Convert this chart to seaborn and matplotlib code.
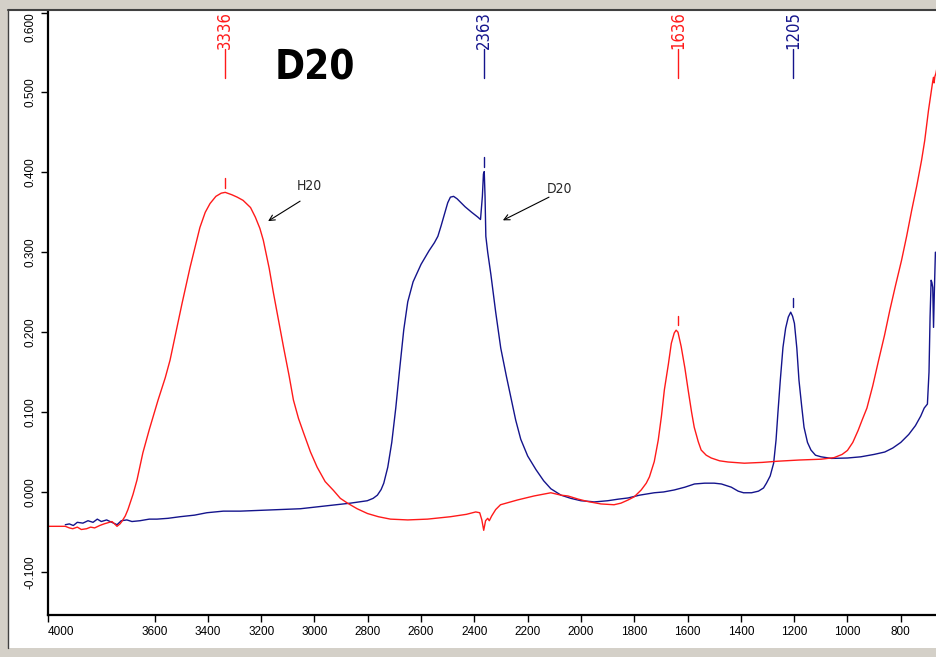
import numpy as np
import pandas as pd
import matplotlib
matplotlib.use("Agg")
import matplotlib.pyplot as plt
import matplotlib.font_manager as fm
import seaborn as sns
from matplotlib.patches import Rectangle
from matplotlib.lines import Line2D

# ---------------- data ----------------
red_wn = [4000, 3960, 3935, 3920, 3907, 3890, 3875, 3855, 3840, 3825, 3806, 3790, 3780, 3760,
          3750, 3741, 3730, 3723, 3710, 3700, 3690, 3681, 3666, 3644, 3620, 3587, 3560, 3542,
          3520, 3497, 3467, 3430, 3410, 3392, 3370, 3350, 3335, 3310, 3290, 3268, 3240, 3222,
          3205, 3192, 3170, 3154, 3135, 3116, 3095, 3079, 3060, 3041, 3015, 2990, 2960, 2929,
          2903, 2876, 2840, 2801, 2760, 2715, 2650, 2576, 2490, 2430, 2395, 2380, 2372, 2365,
          2358, 2350, 2344, 2335, 2320, 2302, 2270, 2238, 2176, 2113, 2075, 2049, 2010, 1974,
          1925, 1876, 1850, 1823, 1800, 1774, 1755, 1743, 1725, 1710, 1698, 1687, 1672, 1661,
          1650, 1643, 1636, 1624, 1610, 1598, 1585, 1575, 1560, 1549, 1530, 1511, 1480, 1448,
          1387, 1320, 1261, 1180, 1099, 1050, 1020, 1000, 980, 960, 945, 927, 905, 883, 861,
          841, 820, 797, 778, 759, 740, 722, 710, 696, 686, 680, 677, 675, 672, 668, 664]
red_abs = [-0.043, -0.043, -0.043, -0.045, -0.046, -0.044, -0.047, -0.046, -0.044, -0.045,
           -0.042, -0.040, -0.039, -0.037, -0.040, -0.043, -0.040, -0.037, -0.030, -0.022,
           -0.012, -0.003, 0.015, 0.049, 0.078, 0.115, 0.143, 0.165, 0.200, 0.236, 0.281,
           0.331, 0.350, 0.361, 0.370, 0.374, 0.375, 0.372, 0.369, 0.365, 0.356, 0.344, 0.330,
           0.315, 0.280, 0.249, 0.215, 0.181, 0.145, 0.115, 0.092, 0.074, 0.050, 0.031, 0.013,
           0.002, -0.008, -0.014, -0.021, -0.027, -0.031, -0.034, -0.035, -0.034, -0.031,
           -0.028, -0.025, -0.026, -0.035, -0.048, -0.036, -0.033, -0.036, -0.030, -0.022,
           -0.016, -0.013, -0.010, -0.005, -0.001, -0.004, -0.005, -0.009, -0.012, -0.015,
           -0.016, -0.014, -0.010, -0.006, 0.0025, 0.011, 0.019, 0.038, 0.065, 0.095, 0.128,
           0.160, 0.186, 0.199, 0.2025, 0.200, 0.182, 0.155, 0.128, 0.100, 0.081, 0.063,
           0.0525, 0.046, 0.0425, 0.039, 0.0375, 0.036, 0.037, 0.0385, 0.040, 0.041, 0.043,
           0.047, 0.052, 0.062, 0.077, 0.090, 0.105, 0.133, 0.165, 0.196, 0.2275, 0.258,
           0.290, 0.320, 0.3525, 0.383, 0.415, 0.440, 0.4775, 0.500, 0.514, 0.519, 0.512,
           0.520, 0.524, 0.531]

blue_wn = [3935, 3920, 3905, 3890, 3869, 3850, 3831, 3815, 3800, 3780, 3760, 3741, 3725, 3704,
           3685, 3655, 3620, 3591, 3550, 3505, 3450, 3404, 3342, 3278, 3200, 3120, 3053, 2959,
           2865, 2802, 2780, 2764, 2750, 2740, 2725, 2710, 2695, 2680, 2665, 2650, 2630, 2600,
           2570, 2550, 2537, 2525, 2512, 2500, 2490, 2478, 2465, 2450, 2435, 2410, 2387, 2377,
           2370, 2366, 2363, 2360, 2357, 2350, 2338, 2320, 2301, 2280, 2263, 2245, 2226, 2200,
           2169, 2140, 2113, 2075, 2038, 2000, 1963, 1951, 1900, 1860, 1823, 1780, 1725, 1690,
           1650, 1610, 1574, 1536, 1500, 1473, 1436, 1410, 1390, 1360, 1334, 1315, 1304, 1290,
           1277, 1268, 1261, 1252, 1242, 1232, 1222, 1213, 1206, 1199, 1190, 1182, 1172, 1163,
           1150, 1137, 1120, 1099, 1060, 1000, 950, 900, 860, 830, 800, 770, 745, 725, 712, 705,
           700, 697, 694, 690, 686, 683, 680, 677, 674, 670, 664]
blue_abs = [-0.041, -0.040, -0.042, -0.038, -0.039, -0.036, -0.038, -0.034, -0.037, -0.035,
            -0.038, -0.041, -0.036, -0.035, -0.037, -0.036, -0.034, -0.034, -0.033, -0.031,
            -0.029, -0.026, -0.024, -0.024, -0.023, -0.022, -0.021, -0.0175, -0.014, -0.011,
            -0.008, -0.004, 0.003, 0.011, 0.031, 0.062, 0.105, 0.155, 0.203, 0.238, 0.263,
            0.285, 0.302, 0.312, 0.320, 0.333, 0.348, 0.362, 0.369, 0.370, 0.367, 0.362,
            0.357, 0.350, 0.344, 0.341, 0.370, 0.398, 0.401, 0.370, 0.320, 0.300, 0.272, 0.225,
            0.180, 0.145, 0.118, 0.090, 0.066, 0.045, 0.028, 0.014, 0.004, -0.004, -0.008,
            -0.011, -0.012, -0.0125, -0.011, -0.009, -0.0075, -0.004, -0.001, 0.000, 0.0025,
            0.006, 0.010, 0.011, 0.011, 0.010, 0.006, 0.001, -0.001, -0.001, 0.001, 0.005,
            0.011, 0.020, 0.036, 0.065, 0.099, 0.140, 0.181, 0.205, 0.219, 0.225, 0.220, 0.211,
            0.180, 0.140, 0.108, 0.081, 0.062, 0.0525, 0.046, 0.044, 0.042, 0.0425, 0.044,
            0.047, 0.050, 0.055, 0.062, 0.072, 0.083, 0.095, 0.105, 0.108, 0.110, 0.131, 0.150,
            0.219, 0.265, 0.262, 0.256, 0.206, 0.250, 0.300, 0.300]

peak_labels = ["3336", "2363", "1636", "1205"]
peak_wn = [3336, 2363, 1636, 1205]
peak_height = [0.375, 0.401, 0.2025, 0.225]
peak_series = ["red", "blue", "red", "blue"]

x_ticks = [4000, 3600, 3400, 3200, 3000, 2800, 2600, 2400, 2200, 2000, 1800, 1600, 1400, 1200, 1000, 800]
y_ticks = [-0.1, 0.0, 0.1, 0.2, 0.3, 0.4, 0.5, 0.6]

RED = "#ff1a1a"
BLUE = "#14148c"
colors = {"red": RED, "blue": BLUE}


# ---------------- narrow font lookup ----------------
def _is_narrow(f):
    st = str(f.stretch).lower()
    return ("narrow" in f.name.lower() or "condensed" in f.name.lower()
            or "condensed" in st or st in ("narrower",)
            or (st.isdigit() and int(st) < 500))


def _weight(f):
    w = f.weight
    if isinstance(w, str):
        return {"bold": 700, "normal": 400, "regular": 400, "book": 400}.get(w.lower(), 400)
    return int(w)


def narrow_props(bold=False, size=10):
    cands = [f for f in fm.fontManager.ttflist if _is_narrow(f) and f.style == "normal"]
    if cands:
        target = 700 if bold else 400
        cands.sort(key=lambda f: (abs(_weight(f) - target), "sans" not in f.name.lower()))
        return fm.FontProperties(fname=cands[0].fname, size=size), True
    return fm.FontProperties(family="DejaVu Sans", weight="bold" if bold else "normal",
                             size=size), False


# ---------------- figure ----------------
sns.set_style("white")
plt.rcParams["font.family"] = ["Liberation Sans", "DejaVu Sans"]

W, H = 937, 657
fig = plt.figure(figsize=(W / 100, H / 100), dpi=100)
fig.patch.set_facecolor("#d4d0c8")
fig.add_artist(Rectangle((8 / W, 9 / H), 1 - 8 / W, 1 - 19 / H, transform=fig.transFigure,
                         facecolor="white", edgecolor="none", zorder=0))
fig.add_artist(Line2D([8 / W, 1], [1 - 10 / H, 1 - 10 / H], transform=fig.transFigure,
                      color="#404040", lw=1.5))
fig.add_artist(Line2D([8 / W, 8 / W], [9 / H, 1 - 10 / H], transform=fig.transFigure,
                      color="#404040", lw=1.0))

ax = fig.add_axes([48 / W, 42 / H, (W - 48) / W, (615 - 11) / H])
ax.set_facecolor("none")

red_df = pd.DataFrame({"wn": red_wn, "abs": red_abs})
blue_df = pd.DataFrame({"wn": blue_wn, "abs": blue_abs})
sns.lineplot(data=blue_df, x="wn", y="abs", sort=False, estimator=None, color=BLUE, lw=1.0, ax=ax)
sns.lineplot(data=red_df, x="wn", y="abs", sort=False, estimator=None, color=RED, lw=1.0, ax=ax)

ax.set_xlim(4000, 664)
ax.set_ylim(-0.154, 0.602)
ax.set_xticks(x_ticks)
ax.set_xticklabels([str(t) for t in x_ticks])
ax.set_yticks(y_ticks)
ax.set_yticklabels([f"{t:.3f}" for t in y_ticks], rotation=90, va="center")
ax.xaxis.get_majorticklabels()[0].set_horizontalalignment("left")
ax.yaxis.get_majorticklabels()[-1].set_verticalalignment("top")
ax.tick_params(axis="both", direction="out", length=5, width=1, colors="black",
               labelsize=8.5, pad=3, bottom=True, left=True)
ax.set_xlabel("")
ax.set_ylabel("")
for s in ["top", "right"]:
    ax.spines[s].set_visible(False)
for s in ["left", "bottom"]:
    ax.spines[s].set_color("black")
    ax.spines[s].set_linewidth(1.6)

# peak labels at top
lab_fp, has_narrow = narrow_props(bold=False, size=12 if True else 10)
if not has_narrow:
    lab_fp.set_size(10.5)
tr = ax.get_xaxis_transform()
for lab, wn, h, ser in zip(peak_labels, peak_wn, peak_height, peak_series):
    c = colors[ser]
    ax.plot([wn, wn], [0.889, 0.937], transform=tr, color=c, lw=1.0, clip_on=False)
    ax.text(wn, 0.937, lab, transform=tr, rotation=90, ha="center", va="bottom",
            color=c, fontproperties=lab_fp)
    ax.plot([wn, wn], [h + 0.006, h + 0.018], color=c, lw=1.0)

# big title
big_fp, _ = narrow_props(bold=True, size=29 if has_narrow else 25)
ax.text(2997, 0.53, "D20", ha="center", va="center", color="black", fontproperties=big_fp)

# annotations
ann_fp, _ = narrow_props(bold=False, size=10 if has_narrow else 8.5)
ax.annotate("", xy=(3174, 0.339), xytext=(3054, 0.364),
            arrowprops=dict(arrowstyle="->", color="black", lw=0.8, shrinkA=0, shrinkB=0))
ax.text(3019, 0.3825, "H20", ha="center", va="center", fontproperties=ann_fp)
ax.annotate("", xy=(2293, 0.340), xytext=(2120, 0.369),
            arrowprops=dict(arrowstyle="->", color="black", lw=0.8, shrinkA=0, shrinkB=0))
ax.text(2082, 0.379, "D20", ha="center", va="center", fontproperties=ann_fp)

fig.savefig("out.png", dpi=100, facecolor=fig.get_facecolor())
